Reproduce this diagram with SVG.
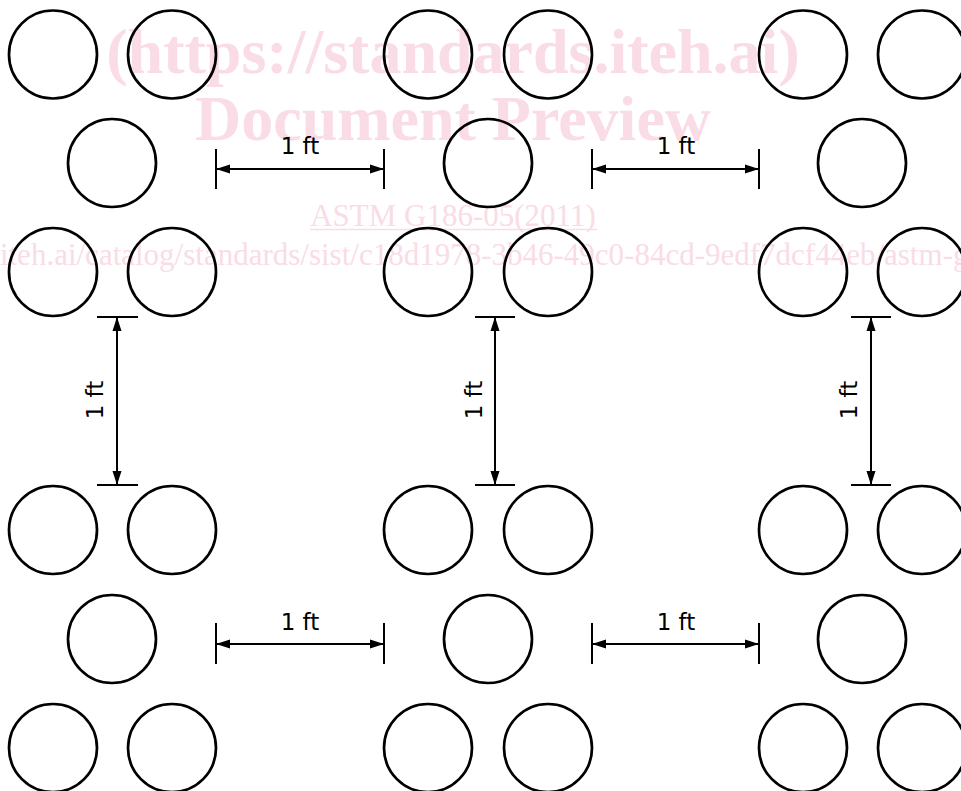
<svg xmlns="http://www.w3.org/2000/svg" width="961" height="791" viewBox="0 0 961 791">
<style>
.wm{fill:#f9dce5;font-family:"Liberation Serif","Times New Roman",serif;text-anchor:middle}
.wb{font-weight:bold;font-size:64px}
.wr{font-size:31px}
.c{fill:none;stroke:#000;stroke-width:2.7}
.d{stroke:#000;stroke-width:2;fill:none}
.t{font-family:"DejaVu Sans",Verdana,sans-serif;font-size:23px;fill:#000;text-anchor:middle}
</style>
<defs>
<marker id="ah" viewBox="0 0 14 10" refX="13" refY="5" markerWidth="14" markerHeight="10" markerUnits="userSpaceOnUse" orient="auto-start-reverse">
<path d="M0,0.5 L14,5 L0,9.5 Z" fill="#000"/>
</marker>
</defs>
<rect width="961" height="791" fill="#fff"/>
<g id="watermark">
<text class="wm wb" x="453" y="73">(https://standards.iteh.ai)</text>
<text class="wm wb" x="453" y="140">Document Preview</text>
<text class="wm wr" x="453" y="226">ASTM G186-05(2011)</text>
<line x1="310" y1="229.5" x2="597" y2="229.5" stroke="#f9dce5" stroke-width="1.5"/>
<text class="wm wr" x="453" y="265">https://standards.iteh.ai/catalog/standards/sist/c18d1978-3b46-49c0-84cd-9edf7dcf44eb/astm-g186-052011</text>
</g>
<g id="row1">
<circle class="c" cx="53" cy="54.5" r="44"/><circle class="c" cx="172" cy="54.5" r="44"/>
<circle class="c" cx="428" cy="54.5" r="44"/><circle class="c" cx="548" cy="54.5" r="44"/>
<circle class="c" cx="803" cy="54.5" r="44"/><circle class="c" cx="922" cy="54.5" r="44"/>
</g>
<g id="row2">
<circle class="c" cx="112" cy="163" r="44"/><circle class="c" cx="488" cy="163" r="44"/><circle class="c" cx="862" cy="163" r="44"/>
</g>
<g id="row3">
<circle class="c" cx="53" cy="272" r="44"/><circle class="c" cx="172" cy="272" r="44"/>
<circle class="c" cx="428" cy="272" r="44"/><circle class="c" cx="548" cy="272" r="44"/>
<circle class="c" cx="803" cy="272" r="44"/><circle class="c" cx="922" cy="272" r="44"/>
</g>
<g id="row4">
<circle class="c" cx="53" cy="530" r="44"/><circle class="c" cx="172" cy="530" r="44"/>
<circle class="c" cx="428" cy="530" r="44"/><circle class="c" cx="548" cy="530" r="44"/>
<circle class="c" cx="803" cy="530" r="44"/><circle class="c" cx="922" cy="530" r="44"/>
</g>
<g id="row5">
<circle class="c" cx="112" cy="639" r="44"/><circle class="c" cx="488" cy="639" r="44"/><circle class="c" cx="862" cy="639" r="44"/>
</g>
<g id="row6">
<circle class="c" cx="53" cy="748" r="44"/><circle class="c" cx="172" cy="748" r="44"/>
<circle class="c" cx="428" cy="748" r="44"/><circle class="c" cx="548" cy="748" r="44"/>
<circle class="c" cx="803" cy="748" r="44"/><circle class="c" cx="922" cy="748" r="44"/>
</g>
<g id="connectors">
<path class="d" d="M216,149V189M384,149V189M592,149V189M759,149V189"/>
<line class="d" x1="217" y1="169" x2="383" y2="169" marker-start="url(#ah)" marker-end="url(#ah)"/>
<line class="d" x1="593" y1="169" x2="758" y2="169" marker-start="url(#ah)" marker-end="url(#ah)"/>
<path class="d" d="M216,623V664M384,623V664M592,623V664M759,623V664"/>
<line class="d" x1="217" y1="644" x2="383" y2="644" marker-start="url(#ah)" marker-end="url(#ah)"/>
<line class="d" x1="593" y1="644" x2="758" y2="644" marker-start="url(#ah)" marker-end="url(#ah)"/>
<path class="d" d="M97,317H138M97,485H138M475,317H515M475,485H515M851,317H891M851,485H891"/>
<line class="d" x1="117" y1="318" x2="117" y2="484" marker-start="url(#ah)" marker-end="url(#ah)"/>
<line class="d" x1="495" y1="318" x2="495" y2="484" marker-start="url(#ah)" marker-end="url(#ah)"/>
<line class="d" x1="871" y1="318" x2="871" y2="484" marker-start="url(#ah)" marker-end="url(#ah)"/>
</g>
<g id="labels">
<text class="t" x="300" y="154">1 ft</text>
<text class="t" x="676" y="154">1 ft</text>
<text class="t" x="300" y="630">1 ft</text>
<text class="t" x="676" y="630">1 ft</text>
<text class="t" transform="translate(103,400) rotate(-90)">1 ft</text>
<text class="t" transform="translate(482,400) rotate(-90)">1 ft</text>
<text class="t" transform="translate(857,400) rotate(-90)">1 ft</text>
</g>
</svg>
